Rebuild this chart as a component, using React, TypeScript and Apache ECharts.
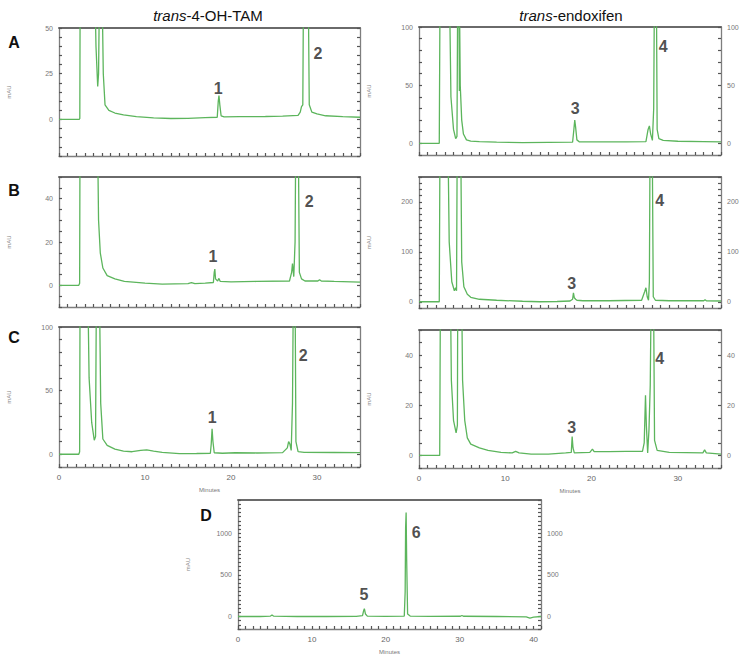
import React, { useEffect, useRef } from "react";
import * as echarts from "echarts";

// ---------- DATA ----------
const X_TICKS = [0, 10, 20, 30];
const X_TICKS_D = [0, 10, 20, 30, 40];

const Y_TICKS_TAM_A = [0, 25, 50];
const Y_TICKS_END_A = [0, 50, 100];
const Y_TICKS_TAM_B = [0, 20, 40];
const Y_TICKS_END_B = [0, 100, 200];
const Y_TICKS_TAM_C = [0, 50, 100];
const Y_TICKS_END_C = [0, 20, 40];
const Y_TICKS_D = [0, 500, 1000];

const TAM_A = [
  [0, 0], [2.35, 0], [2.42, 0.5], [2.47, 90], [4.1, 90], [4.3, 40], [4.5, 18], [4.6, 25], [4.75, 90], [4.95, 90],
  [5.15, 25], [5.35, 8], [5.8, 5], [6.5, 3.5], [7.5, 2.5], [9, 1.5], [11, 0.8], [13, 0.5], [15, 0.6], [17, 1],
  [18.4, 1.2], [18.52, 10], [18.6, 13], [18.7, 8], [18.85, 2], [19.2, 1.4], [21, 1.5], [24, 1.6], [26, 1.8],
  [27.8, 2.2], [28.05, 4], [28.2, 7], [28.35, 8], [28.45, 90], [28.95, 90], [29.1, 8], [29.4, 4], [30, 3],
  [31, 2], [33, 1.5], [35, 1.2],
];
const END_A = [
  [0, 0], [2.35, 0], [2.45, 150], [3.5, 150], [3.7, 40], [4.0, 12], [4.25, 4], [4.4, 6], [4.5, 150], [4.62, 150],
  [4.68, 45], [4.72, 100], [4.78, 50], [4.95, 20], [5.15, 8], [5.5, 3], [6, 2], [7, 1.5], [9, 1], [12, 0.6],
  [15, 0.8], [17.8, 1], [17.95, 12], [18.05, 20], [18.15, 14], [18.3, 3], [18.6, 1.2], [21, 1.3], [24, 1.3],
  [26.3, 1.5], [26.55, 12], [26.7, 15], [26.85, 8], [27.05, 2.5], [27.2, 30], [27.3, 150], [27.5, 150],
  [27.6, 12], [27.8, 4], [28.3, 2.5], [30, 1.8], [33, 1.5], [35, 1.2],
];
const TAM_B = [
  [0, 0], [2.3, 0], [2.4, 1], [2.45, 80], [4.45, 80], [4.6, 30], [4.8, 15], [5.1, 8], [5.6, 4.5], [6.5, 3],
  [7.6, 1.8], [10, 1], [12, 0.6], [15, 0.8], [15.4, 1.3], [15.8, 0.8], [17, 1], [17.95, 1.3], [18.05, 6],
  [18.12, 7.5], [18.2, 3], [18.45, 2], [18.6, 3.2], [18.75, 1.8], [20, 1.6], [23, 1.8], [26.8, 2], [27.05, 6],
  [27.15, 10], [27.3, 4], [27.45, 20], [27.55, 80], [27.8, 80], [27.95, 6], [28.2, 3], [28.6, 2], [30.1, 2],
  [30.3, 2.6], [30.5, 2], [32, 1.8], [35, 1.5],
];
const END_B = [
  [0, 0], [2.35, 0], [2.45, 400], [3.3, 400], [3.5, 120], [3.8, 40], [4.1, 22], [4.25, 28], [4.35, 22],
  [4.45, 400], [4.8, 400], [4.95, 80], [5.2, 30], [5.6, 15], [6, 9], [7, 5], [9, 3], [12, 1], [14, 0], [16, 0.5],
  [17.5, 1.5], [17.8, 5], [17.9, 18], [18, 8], [18.15, 5], [18.3, 3], [19, 2], [22, 2], [25.8, 3], [26.15, 20],
  [26.3, 28], [26.45, 10], [26.6, 3], [26.7, 40], [26.8, 400], [27.0, 400], [27.15, 10], [27.4, 3], [29, 2],
  [33, 2], [33.15, 4], [33.3, 2], [35, 1.5],
];
const TAM_C = [
  [0, 0], [2.3, 0], [2.4, 2], [2.45, 130], [3.35, 130], [3.5, 60], [3.8, 25], [4.1, 11], [4.25, 14], [4.35, 130],
  [4.7, 130], [4.85, 40], [5.1, 12], [5.6, 7], [6.5, 4], [7.5, 2.5], [8.5, 2], [9.5, 3], [10.2, 3.5], [11, 2.5],
  [12, 1.5], [14, 0.5], [16, 0.6], [17.6, 0.8], [17.7, 8], [17.8, 20], [17.9, 10], [18.05, 1.2], [19, 0.8],
  [20.5, 1.2], [23, 1], [26, 1.3], [26.55, 5], [26.7, 10], [26.85, 8], [27.0, 3], [27.15, 40], [27.25, 130],
  [27.45, 130], [27.55, 10], [27.8, 2], [28.5, 1.5], [32, 1.4], [35, 1.3],
];
const END_C = [
  [0, 0], [2.4, 0], [2.5, 80], [3.6, 80], [3.75, 30], [4.0, 14], [4.3, 9], [4.45, 12], [4.5, 80], [4.9, 80],
  [5.05, 30], [5.3, 14], [5.6, 7], [6, 4.5], [7, 3], [8, 2], [9.5, 1.2], [10.8, 1], [11.2, 1.6], [11.6, 1],
  [13, 0.5], [15, 0.5], [17, 1], [17.65, 1.2], [17.75, 7.5], [17.85, 3], [18, 1], [19.8, 1.2], [20.1, 2.5],
  [20.3, 1.5], [22, 1.5], [24, 1.6], [25.9, 1.6], [26.1, 5], [26.25, 24], [26.35, 12], [26.5, 1], [26.65, 10],
  [26.8, 28], [26.95, 80], [27.15, 80], [27.3, 6], [27.6, 2], [29, 1.2], [32.9, 1], [33.1, 2.2], [33.3, 1],
  [35, 0.5],
];
const TRACE_D = [
  [0, 0], [3, 0], [4.4, 5], [4.6, 18], [4.8, 5], [8, 0], [12, 0], [16, 2], [16.85, 10], [17.0, 70], [17.1, 95],
  [17.25, 30], [17.5, 5], [20, 2], [22.5, 5], [22.62, 300], [22.68, 1070], [22.75, 1250], [22.82, 700],
  [22.95, 30], [23.3, 5], [26, 2], [30.1, 3], [30.3, 12], [30.5, 3], [35, 0], [39, -5], [39.5, -20], [40, -8],
  [41, 0],
];

// peak number labels: [time, mAU, text]
const PEAKS_TAM_A: [number, number, string][] = [[18.5, 17, "1"], [30.1, 36, "2"]];
const PEAKS_END_A: [number, number, string][] = [[18.1, 30, "3"], [28.3, 83, "4"]];
const PEAKS_TAM_B: [number, number, string][] = [[17.9, 13.5, "1"], [29.1, 38.5, "2"]];
const PEAKS_END_B: [number, number, string][] = [[17.7, 37, "3"], [27.9, 203, "4"]];
const PEAKS_TAM_C: [number, number, string][] = [[17.8, 29, "1"], [28.4, 78, "2"]];
const PEAKS_END_C: [number, number, string][] = [[17.7, 11.3, "3"], [27.9, 38.8, "4"]];
const PEAKS_D: [number, number, string][] = [[17.05, 270, "5"], [24.1, 1015, "6"]];

// ---------- LAYOUT ----------
const FONT = "Liberation Sans, Arial, sans-serif";
const GREEN = "#5cb55c";
const AXIS = "#7e7e7e";
const TICK = "#555555";

type Panel = {
  left: number; top: number; width: number; height: number;
  xMax: number; yMin: number; yMax: number; yTicks: number[]; yStep: number; xTicks: number[];
  data: number[][]; peaks: [number, number, string][]; showX: boolean; showRight: boolean;
};

const PANELS: Panel[] = [
  { left: 59, top: 28, width: 301, height: 128, xMax: 35, yMin: -20, yMax: 50, yTicks: Y_TICKS_TAM_A, yStep: 5, xTicks: X_TICKS, data: TAM_A, peaks: PEAKS_TAM_A, showX: false, showRight: false },
  { left: 419, top: 27, width: 302, height: 128, xMax: 35, yMin: -10, yMax: 100, yTicks: Y_TICKS_END_A, yStep: 10, xTicks: X_TICKS, data: END_A, peaks: PEAKS_END_A, showX: false, showRight: true },
  { left: 59, top: 177, width: 301, height: 130, xMax: 35, yMin: -10, yMax: 50, yTicks: Y_TICKS_TAM_B, yStep: 5, xTicks: X_TICKS, data: TAM_B, peaks: PEAKS_TAM_B, showX: false, showRight: false },
  { left: 419, top: 177, width: 302, height: 131, xMax: 35, yMin: -12.5, yMax: 250, yTicks: Y_TICKS_END_B, yStep: 12.5, xTicks: X_TICKS, data: END_B, peaks: PEAKS_END_B, showX: false, showRight: true },
  { left: 59, top: 327, width: 301, height: 140, xMax: 35, yMin: -10, yMax: 100, yTicks: Y_TICKS_TAM_C, yStep: 10, xTicks: X_TICKS, data: TAM_C, peaks: PEAKS_TAM_C, showX: true, showRight: false },
  { left: 419, top: 330, width: 302, height: 138, xMax: 35, yMin: -5, yMax: 50, yTicks: Y_TICKS_END_C, yStep: 5, xTicks: X_TICKS, data: END_C, peaks: PEAKS_END_C, showX: true, showRight: true },
  { left: 238, top: 500, width: 303, height: 129, xMax: 41, yMin: -150, yMax: 1400, yTicks: Y_TICKS_D, yStep: 50, xTicks: X_TICKS_D, data: TRACE_D, peaks: PEAKS_D, showX: true, showRight: true },
];

const onlyMajor = (major: number[]) => (v: number) =>
  major.some((m) => Math.abs(m - v) < 1e-6) ? String(Math.round(v)) : "";

function buildOption() {
  const grid: any[] = [];
  const xAxis: any[] = [];
  const yAxis: any[] = [];
  const series: any[] = [];
  PANELS.forEach((p, i) => {
    grid.push({ left: p.left, top: p.top, width: p.width, height: p.height, containLabel: false });
    const xb = xAxis.length;
    xAxis.push({
      type: "value", gridIndex: i, min: 0, max: p.xMax, interval: 1, position: "bottom",
      axisLine: { show: true, onZero: false, lineStyle: { color: AXIS, width: 1.3 } },
      axisTick: { show: true, inside: true, length: 3, lineStyle: { color: TICK, width: 1.2 } },
      axisLabel: {
        show: p.showX, formatter: onlyMajor(p.xTicks), fontSize: 8, color: "#666", margin: 6,
        fontFamily: FONT, showMinLabel: true, showMaxLabel: true, hideOverlap: false,
      },
      splitLine: { show: false },
      name: p.showX ? "Minutes" : "", nameLocation: "middle", nameGap: 20,
      nameTextStyle: { fontSize: 6, color: "#777", fontFamily: FONT },
    });
    xAxis.push({
      type: "value", gridIndex: i, min: 0, max: p.xMax, position: "top",
      axisLine: { show: true, onZero: false, lineStyle: { color: "#6a6a6a", width: 2 } },
      axisTick: { show: false }, axisLabel: { show: false }, splitLine: { show: false },
    });
    const yb = yAxis.length;
    yAxis.push({
      type: "value", gridIndex: i, min: p.yMin, max: p.yMax, interval: p.yStep, position: "left",
      axisLine: { show: true, onZero: false, lineStyle: { color: AXIS, width: 1.3 } },
      axisTick: { show: true, inside: true, length: 3, lineStyle: { color: TICK, width: 1.2 } },
      axisLabel: {
        show: true, formatter: onlyMajor(p.yTicks), fontSize: 7, color: "#777", margin: 6,
        fontFamily: FONT, hideOverlap: false,
      },
      splitLine: { show: false },
      name: "mAU", nameLocation: "middle", nameGap: 47, nameRotate: 90,
      nameTextStyle: { fontSize: 6, color: "#888", fontFamily: FONT },
    });
    yAxis.push({
      type: "value", gridIndex: i, min: p.yMin, max: p.yMax, interval: p.yStep, position: "right",
      axisLine: { show: true, onZero: false, lineStyle: { color: AXIS, width: 1.3 } },
      axisTick: { show: true, inside: true, length: 3, lineStyle: { color: TICK, width: 1.2 } },
      axisLabel: {
        show: p.showRight, formatter: onlyMajor(p.yTicks), fontSize: 7, color: "#777", margin: 6,
        fontFamily: FONT, hideOverlap: false,
      },
      splitLine: { show: false },
    });
    series.push({
      type: "line", xAxisIndex: xb, yAxisIndex: yb, data: p.data, symbol: "none", showSymbol: false,
      lineStyle: { color: GREEN, width: 1.3 }, clip: true, silent: true,
    });
    series.push({
      type: "scatter", xAxisIndex: xb, yAxisIndex: yb, symbolSize: 1, silent: true,
      itemStyle: { color: "rgba(0,0,0,0)" },
      data: p.peaks.map((q) => ({ value: [q[0], q[1]], name: q[2] })),
      label: { show: true, position: "inside", formatter: "{b}", fontSize: 16, fontWeight: "bold", color: "#222", fontFamily: FONT },
    });
  });

  const letter = (t: string, x: number, y: number) => ({
    type: "text", x, y,
    style: { text: t, font: `bold 16px ${FONT}`, fill: "#111", align: "center", verticalAlign: "middle" },
  });
  const title = (t: string, x: number) => ({
    type: "text", x, y: 15,
    style: {
      text: `{i|trans}{n|${t}}`, align: "center", verticalAlign: "middle",
      rich: {
        i: { fontStyle: "italic", fontSize: 15, fontFamily: FONT, fill: "#111" },
        n: { fontSize: 15, fontFamily: FONT, fill: "#111" },
      },
    },
  });

  return {
    animation: false,
    backgroundColor: "#ffffff",
    grid, xAxis, yAxis, series,
    graphic: [
      title("-4-OH-TAM", 208),
      title("-endoxifen", 571),
      letter("A", 14, 42),
      letter("B", 14, 190),
      letter("C", 14, 337),
      letter("D", 206, 515),
    ],
  };
}

export default function App() {
  const ref = useRef<HTMLDivElement>(null);
  useEffect(() => {
    if (!ref.current) return;
    const chart = echarts.init(ref.current, null, { renderer: "svg" });
    chart.setOption(buildOption() as any);
    return () => chart.dispose();
  }, []);
  return (
    <div
      ref={ref}
      style={{ position: "fixed", left: 0, top: 0, width: 749, height: 659, background: "#fff" }}
    />
  );
}
